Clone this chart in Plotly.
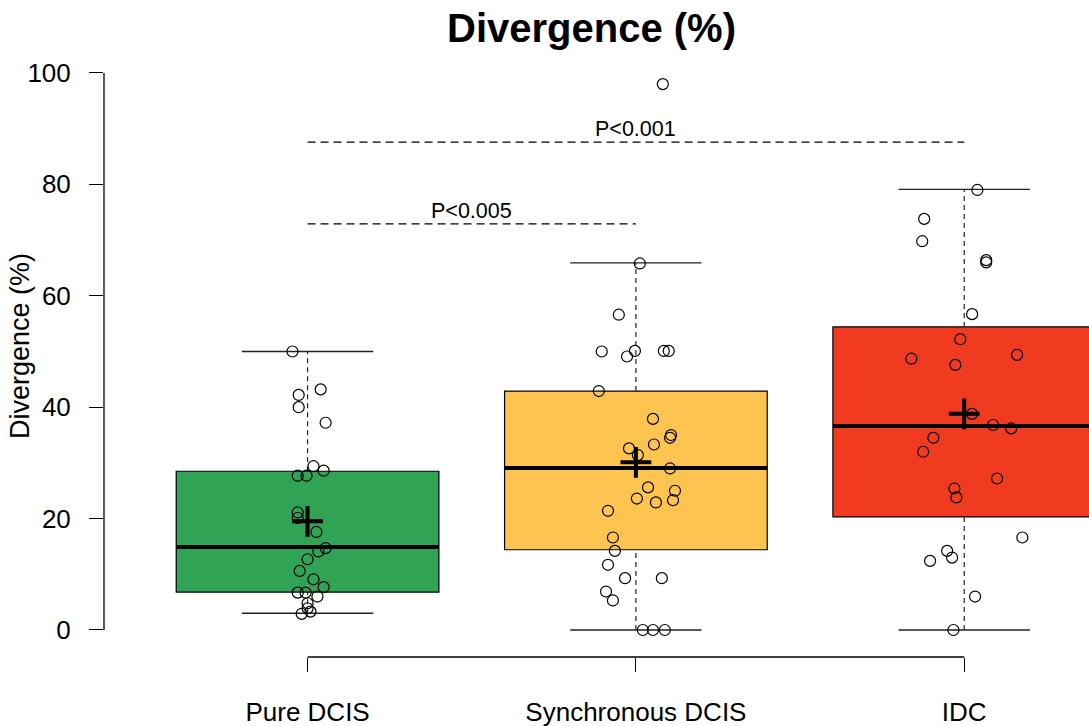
import plotly.graph_objects as go

# ---------------- data ----------------
categories = ["Pure DCIS", "Synchronous DCIS", "IDC"]
box_colors = ["#31A354", "#FEC44F", "#F03B20"]

q1 = [6.8, 14.4, 20.3]
median = [14.9, 29.1, 36.6]
q3 = [28.5, 42.9, 54.4]
whisker_low = [3.0, 0.0, 0.0]
whisker_high = [50.0, 65.9, 79.1]
means = [19.5, 30.1, 38.8]

pure_vals = [50.0, 43.2, 42.2, 40.0, 37.2, 29.4, 28.6, 27.7, 27.7, 21.1, 20.1, 17.6, 14.7,
             14.1, 12.7, 10.6, 9.1, 7.7, 6.7, 6.7, 6.0, 4.8, 3.9, 3.3, 2.9]
pure_jit = [-0.046, 0.040, -0.027, -0.027, 0.055, 0.018, 0.049, -0.030, -0.003, -0.030, -0.030,
            0.027, 0.055, 0.033, 0.0, -0.024, 0.018, 0.049, -0.030, -0.006, 0.030, 0.0, 0.0,
            0.009, -0.018]

sync_vals = [98.0, 65.8, 56.6, 50.0, 50.1, 49.1, 50.1, 50.1, 42.9, 37.9, 35.0, 34.5, 33.3, 32.6,
             31.4, 29.0, 25.6, 25.0, 23.6, 22.9, 23.3, 21.4, 16.6, 14.2, 11.7, 9.3, 9.3, 6.9, 5.3,
             0.0, 0.0, 0.0]
sync_jit = [0.082, 0.012, -0.052, -0.104, -0.003, -0.027, 0.085, 0.100, -0.113, 0.052, 0.107,
            0.104, 0.055, -0.021, 0.006, 0.104, 0.037, 0.119, 0.003, 0.061, 0.113, -0.085, -0.070,
            -0.064, -0.085, -0.033, 0.079, -0.091, -0.070, 0.021, 0.052, 0.088]

idc_vals = [79.0, 73.8, 69.8, 66.4, 66.0, 56.7, 52.2, 48.7, 49.4, 47.6, 38.8, 36.8, 36.2, 34.5,
            32.0, 27.2, 25.4, 23.8, 16.6, 14.2, 13.0, 12.4, 6.0, 0.0]
idc_jit = [0.040, -0.122, -0.128, 0.067, 0.067, 0.024, -0.012, -0.161, 0.161, -0.027, 0.024,
           0.088, 0.143, -0.094, -0.125, 0.100, -0.030, -0.024, 0.177, -0.052, -0.037, -0.104,
           0.033, -0.033]

group_vals = [pure_vals, sync_vals, idc_vals]
group_jit = [pure_jit, sync_jit, idc_jit]

p_from = [1, 1]
p_to = [3, 2]
p_level = [87.6, 72.9]
p_labels = ["P<0.001", "P<0.005"]

y_ticks = [0, 20, 40, 60, 80, 100]

# ---------------- styling ----------------
FONT = "Liberation Sans, Arial, Helvetica, sans-serif"
BOX_HALF = 0.4
CAP_HALF = 0.2
X_RANGE = [0.38, 3.38]
Y_RANGE = [-4.85, 113.1]
W, H = 1089, 726
ML, MB = 104, 69
PLOT_H = H - MB

positions = [i + 1 for i in range(len(categories))]

fig = go.Figure()
shapes = []
for i, pos in enumerate(positions):
    shapes.append(dict(type="rect", xref="x", yref="y", x0=pos - BOX_HALF, x1=pos + BOX_HALF,
                       y0=q1[i], y1=q3[i], fillcolor=box_colors[i],
                       line=dict(color="black", width=1.2), layer="below"))
    shapes.append(dict(type="line", xref="x", yref="y", x0=pos, x1=pos, y0=whisker_low[i], y1=q1[i],
                       line=dict(color="#222", width=1.2, dash="5px,4px"), layer="below"))
    shapes.append(dict(type="line", xref="x", yref="y", x0=pos, x1=pos, y0=q3[i], y1=whisker_high[i],
                       line=dict(color="#222", width=1.2, dash="5px,4px"), layer="below"))
    for yv in (whisker_low[i], whisker_high[i]):
        shapes.append(dict(type="line", xref="x", yref="y", x0=pos - CAP_HALF, x1=pos + CAP_HALF,
                           y0=yv, y1=yv, line=dict(color="#222", width=1.3), layer="below"))
    shapes.append(dict(type="line", xref="x", yref="y", x0=pos - BOX_HALF, x1=pos + BOX_HALF,
                       y0=median[i], y1=median[i], line=dict(color="black", width=4), layer="below"))

for a, b, lv in zip(p_from, p_to, p_level):
    shapes.append(dict(type="line", xref="x", yref="y", x0=a, x1=b, y0=lv, y1=lv,
                       line=dict(color="black", width=1.3, dash="8px,5px")))

# R-style axis lines spanning only the ticks
shapes.append(dict(type="line", xref="paper", yref="y", x0=0, x1=0, y0=min(y_ticks), y1=max(y_ticks),
                   line=dict(color="black", width=1.3)))
span = X_RANGE[1] - X_RANGE[0]
shapes.append(dict(type="line", xref="paper", yref="paper",
                   x0=(positions[0] - X_RANGE[0]) / span, x1=(positions[-1] - X_RANGE[0]) / span,
                   y0=0, y1=0, line=dict(color="black", width=1.3)))

for i, pos in enumerate(positions):
    fig.add_trace(go.Scatter(
        x=[pos + j for j in group_jit[i]], y=group_vals[i], mode="markers",
        marker=dict(symbol="circle-open", size=11, color="black", line=dict(width=1.2, color="black")),
        showlegend=False, hoverinfo="y"))

fig.add_trace(go.Scatter(
    x=positions, y=means, mode="markers",
    marker=dict(symbol="cross-thin-open", size=22, color="black", line=dict(width=4, color="black")),
    showlegend=False, hoverinfo="y"))

annotations = []
for a, b, lv, lab in zip(p_from, p_to, p_level, p_labels):
    annotations.append(dict(x=(a + b) / 2, y=lv, xref="x", yref="y", text=lab, showarrow=False,
                            yanchor="bottom", yshift=-1, font=dict(family=FONT, size=21.5, color="black")))

annotations.append(dict(x=(591 - ML) / (W - ML), y=(PLOT_H - 28) / PLOT_H, xref="paper", yref="paper",
                        text="<b>Divergence (%)</b>", showarrow=False, xanchor="center", yanchor="middle",
                        font=dict(family=FONT, size=40, color="black")))
annotations.append(dict(x=(20 - ML) / (W - ML), y=(PLOT_H - 346) / PLOT_H, xref="paper", yref="paper",
                        text="Divergence (%)", textangle=-90, showarrow=False,
                        xanchor="center", yanchor="middle",
                        font=dict(family=FONT, size=27, color="black")))

fig.update_layout(
    width=W, height=H,
    margin=dict(l=ML, r=0, t=0, b=MB, pad=0),
    paper_bgcolor="white", plot_bgcolor="white",
    shapes=shapes, annotations=annotations,
    xaxis=dict(range=X_RANGE, showgrid=False, zeroline=False, showline=False, automargin=False,
               tickmode="array", tickvals=positions, ticktext=categories,
               ticks="outside", ticklen=14, tickwidth=1.3, tickcolor="black",
               ticklabelstandoff=18,
               tickfont=dict(family=FONT, size=26, color="black")),
    yaxis=dict(range=Y_RANGE, showgrid=False, zeroline=False, showline=False, automargin=False,
               tickmode="array", tickvals=y_ticks, ticktext=[str(v) for v in y_ticks],
               ticks="outside", ticklen=14, tickwidth=1.3, tickcolor="black",
               ticklabelstandoff=13,
               tickfont=dict(family=FONT, size=26, color="black")),
)

fig.write_html("out.html", config={"displayModeBar": False},
               post_script="document.body.style.margin='0';")
